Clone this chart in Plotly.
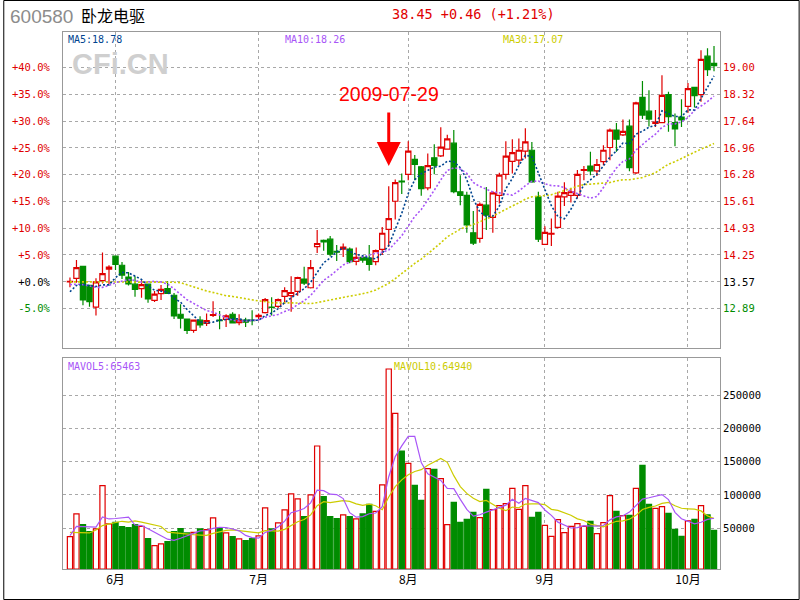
import plotly.graph_objects as go
import pandas as pd

# ---------------- data ----------------
dates = [
    "2009-05-19", "2009-05-20", "2009-05-21", "2009-05-22", "2009-05-25", "2009-05-26", "2009-05-27",
    "2009-06-01", "2009-06-02", "2009-06-03", "2009-06-04", "2009-06-05", "2009-06-08", "2009-06-09",
    "2009-06-10", "2009-06-11", "2009-06-12", "2009-06-15", "2009-06-16", "2009-06-17", "2009-06-18",
    "2009-06-19", "2009-06-22", "2009-06-23", "2009-06-24", "2009-06-25", "2009-06-26", "2009-06-29",
    "2009-06-30",
    "2009-07-01", "2009-07-02", "2009-07-03", "2009-07-06", "2009-07-07", "2009-07-08", "2009-07-09",
    "2009-07-10", "2009-07-13", "2009-07-14", "2009-07-15", "2009-07-16", "2009-07-17", "2009-07-20",
    "2009-07-21", "2009-07-22", "2009-07-23", "2009-07-24", "2009-07-27", "2009-07-28", "2009-07-29",
    "2009-07-30", "2009-07-31",
    "2009-08-03", "2009-08-04", "2009-08-05", "2009-08-06", "2009-08-07", "2009-08-10", "2009-08-11",
    "2009-08-12", "2009-08-13", "2009-08-14", "2009-08-17", "2009-08-18", "2009-08-19", "2009-08-20",
    "2009-08-21", "2009-08-24", "2009-08-25", "2009-08-26", "2009-08-27", "2009-08-28", "2009-08-31",
    "2009-09-01", "2009-09-02", "2009-09-03", "2009-09-04", "2009-09-07", "2009-09-08", "2009-09-09",
    "2009-09-10", "2009-09-11", "2009-09-14", "2009-09-15", "2009-09-16", "2009-09-17", "2009-09-18",
    "2009-09-21", "2009-09-22", "2009-09-23", "2009-09-24", "2009-09-25", "2009-09-28", "2009-09-29",
    "2009-09-30",
    "2009-10-09", "2009-10-12", "2009-10-13", "2009-10-14", "2009-10-15",
]

opens = [
    13.57, 13.66, 13.96, 13.48, 12.93, 13.60, 13.89, 14.22, 13.99, 13.69,
    13.51, 13.40, 13.51, 13.10, 13.27, 13.40, 13.23, 12.75, 12.63, 12.34,
    12.60, 12.52, 12.72, 12.60, 12.62, 12.75, 12.54, 12.60, 12.60, 12.69,
    12.79, 12.93, 12.95, 13.20, 13.22, 13.33, 13.64, 13.42, 14.46, 14.62,
    14.65, 14.34, 14.40, 14.40, 14.09, 14.19, 14.17, 14.08, 14.39, 14.90,
    15.61, 16.12, 16.29, 16.67, 16.48, 15.95, 16.71, 16.76, 16.93, 17.08,
    15.85, 15.76, 14.81, 14.67, 15.51, 15.20, 15.76, 16.29, 16.62, 16.65,
    16.88, 16.90, 15.72, 14.52, 14.78, 14.95, 15.72, 15.76, 15.76, 16.39,
    16.50, 16.38, 16.61, 16.97, 17.41, 17.29, 17.51, 16.33, 18.24, 17.89,
    17.58, 17.60, 18.31, 17.60, 17.74, 18.01, 18.49, 18.31, 19.28, 19.10,
]
highs = [
    13.68, 14.12, 13.97, 13.49, 13.66, 14.31, 13.99, 14.23, 14.07, 13.82,
    13.71, 13.61, 13.52, 13.34, 13.49, 13.59, 13.29, 13.00, 12.64, 12.62,
    12.70, 12.77, 13.08, 12.83, 12.75, 12.80, 12.75, 12.66, 12.85, 12.77,
    13.16, 13.18, 13.15, 13.43, 13.71, 13.70, 13.95, 14.12, 14.88, 14.64,
    14.73, 14.50, 14.54, 14.44, 14.44, 14.22, 14.50, 14.39, 14.96, 15.99,
    16.16, 16.31, 17.13, 16.78, 16.50, 16.82, 17.05, 17.48, 17.29, 17.41,
    16.27, 15.85, 15.36, 15.58, 15.97, 15.87, 16.33, 17.13, 17.18, 17.20,
    17.46, 17.11, 15.85, 14.98, 15.17, 15.85, 16.09, 15.93, 16.40, 16.50,
    16.86, 16.68, 17.03, 17.45, 17.59, 17.68, 17.68, 18.13, 18.65, 18.42,
    17.92, 18.80, 18.38, 17.83, 18.19, 18.60, 18.50, 19.43, 19.48, 19.54,
]
lows = [
    13.43, 13.55, 12.98, 12.94, 12.72, 13.53, 13.50, 13.87, 13.64, 13.48,
    13.19, 13.17, 13.04, 13.06, 13.11, 13.27, 12.63, 12.39, 12.25, 12.28,
    12.41, 12.45, 12.68, 12.37, 12.43, 12.52, 12.47, 12.43, 12.47, 12.60,
    12.77, 12.72, 12.90, 13.02, 12.81, 13.22, 13.49, 13.40, 14.30, 14.36,
    14.22, 14.10, 14.20, 14.04, 13.99, 14.05, 13.85, 13.99, 14.25, 14.46,
    15.15, 15.79, 16.14, 16.14, 15.75, 15.89, 16.29, 16.73, 16.91, 15.81,
    15.51, 14.81, 14.50, 14.56, 14.88, 14.81, 15.55, 16.16, 16.31, 16.52,
    16.69, 16.08, 14.58, 14.50, 14.48, 14.92, 15.49, 15.58, 15.68, 16.14,
    16.27, 16.25, 16.52, 16.65, 16.86, 17.26, 16.37, 16.30, 17.69, 17.50,
    17.49, 17.59, 17.37, 17.00, 17.49, 17.85, 17.98, 18.13, 18.78, 18.90,
]
closes = [
    13.58, 13.93, 13.11, 13.07, 13.57, 13.78, 13.94, 14.01, 13.74, 13.52,
    13.38, 13.50, 13.14, 13.26, 13.38, 13.28, 12.71, 12.65, 12.34, 12.60,
    12.48, 12.59, 12.74, 12.59, 12.71, 12.53, 12.60, 12.55, 12.59, 12.72,
    13.12, 12.92, 13.12, 13.35, 13.30, 13.68, 13.54, 13.93, 14.54, 14.58,
    14.27, 14.32, 14.45, 14.08, 14.19, 14.12, 14.01, 14.36, 14.80, 15.17,
    16.08, 16.10, 16.88, 16.54, 15.93, 16.51, 16.52, 16.98, 17.19, 15.85,
    15.76, 15.01, 14.55, 15.53, 15.26, 15.82, 16.27, 16.75, 16.84, 16.90,
    17.11, 16.10, 14.65, 14.82, 14.80, 15.74, 15.83, 15.85, 16.29, 16.41,
    16.38, 16.54, 16.90, 17.41, 17.18, 17.38, 16.46, 18.10, 17.79, 17.69,
    17.61, 18.29, 17.75, 17.44, 17.67, 18.46, 18.28, 19.20, 18.94, 19.04,
]
volumes = [
    37500, 71500, 55500, 45000, 49000, 114000, 56500, 59000, 52500, 51000,
    55500, 53000, 34500, 24000, 26500, 30000, 45000, 49500, 43000, 44000,
    49000, 48000, 65500, 50500, 43000, 37500, 34000, 31500, 34500, 38500,
    80500, 49000, 58000, 77500, 101500, 94000, 67500, 100000, 173500, 97500,
    67500, 64500, 70000, 67500, 64000, 71500, 86000, 75500, 115000, 289000,
    222500, 166000, 147500, 114500, 92000, 139500, 138500, 124500, 55500, 89000,
    59000, 63500, 74000, 66000, 108500, 78000, 84000, 87000, 110000, 78500,
    114000, 66500, 74000, 54500, 38000, 63000, 43500, 53000, 57000, 53000,
    60500, 42000, 58500, 99000, 75500, 69000, 69500, 110000, 144500, 86000,
    80000, 82500, 72500, 48500, 38000, 61000, 63500, 84000, 70000, 47000,
]

ma5_head = [13.32, 13.48, 13.50, 13.48]
ma10_head = [13.50, 13.51, 13.50, 13.47, 13.43, 13.43, 13.48, 13.55, 13.58]
ma30_head = [13.57, 13.57, 13.57, 13.57, 13.57, 13.57, 13.57, 13.57, 13.57, 13.57,
             13.57, 13.57, 13.57, 13.57, 13.57, 13.56, 13.56, 13.55, 13.49, 13.44,
             13.39, 13.34, 13.30, 13.26, 13.22, 13.20, 13.17, 13.14, 13.11]
mavol5_head = [39000, 53000, 52500, 52500]
mavol10_head = [44000, 44000, 43000, 43000, 47500, 54000, 56500, 59000, 60500]

base_price = 13.57
price_ticks = [12.89, 13.57, 14.25, 14.93, 15.61, 16.28, 16.96, 17.64, 18.32, 19.00]
price_labels = ["12.89", "13.57", "14.25", "14.93", "15.61", "16.28", "16.96", "17.64", "18.32", "19.00"]
pct_labels = ["-5.0%", "+0.0%", "+5.0%", "+10.0%", "+15.0%", "+20.0%", "+25.0%", "+30.0%", "+35.0%", "+40.0%"]
vol_ticks = [50000, 100000, 150000, 200000, 250000]
vol_labels = ["50000", "100000", "150000", "200000", "250000"]
month_labels = ["6月", "7月", "8月", "9月", "10月"]

stock_code = "600580"
stock_name = "卧龙电驱"
quote_text = "38.45 +0.46 (+1.21%)"
ma_texts = ["MA5:18.78", "MA10:18.26", "MA30:17.07"]
mavol_texts = ["MAVOL5:65463", "MAVOL10:64940"]
marked_date = "2009-07-29"
watermark = "CFi.CN"

# ---------------- styling ----------------
RED = "#E00000"
GREEN = "#008C00"
MA5_C = "#00448F"
MA10_C = "#A855F7"
MA30_C = "#CCCC00"
GRID = "#A8A8A8"
BORDER = "#999999"
MONO = "DejaVu Sans Mono, monospace"

PRICE_RANGE = [11.895, 19.893]
VOL_RANGE = [-11100, 305500]
X_RANGE = [-1.07, 99.92]


def rolling_with_head(values, n, head):
    s = pd.Series(values, dtype=float).rolling(n).mean()
    s.iloc[:len(head)] = head
    return s.tolist()


ma5 = rolling_with_head(closes, 5, ma5_head)
ma10 = rolling_with_head(closes, 10, ma10_head)
ma30 = rolling_with_head(closes, 30, ma30_head)
mavol5 = rolling_with_head(volumes, 5, mavol5_head)
mavol10 = rolling_with_head(volumes, 10, mavol10_head)

month_starts = [d for i, d in enumerate(dates) if i > 0 and d[5:7] != dates[i - 1][5:7]]

up = [c >= o for o, c in zip(opens, closes)]


def colored(label, value):
    if abs(value - base_price) < 1e-9:
        col = "#000000"
    elif value > base_price:
        col = RED
    else:
        col = GREEN
    return f'<span style="color:{col}">{label}</span>'


fig = go.Figure()

fig.add_trace(go.Candlestick(
    x=dates, open=opens, high=highs, low=lows, close=closes,
    increasing=dict(line=dict(color=RED, width=1.2), fillcolor="white"),
    decreasing=dict(line=dict(color=GREEN, width=1.2), fillcolor=GREEN),
    whiskerwidth=0, xaxis="x", yaxis="y", showlegend=False, hoverinfo="skip",
))

dot = "2px,2px"
for vals, col in [(ma30, MA30_C), (ma10, MA10_C), (ma5, MA5_C)]:
    fig.add_trace(go.Scatter(x=dates, y=vals, mode="lines", xaxis="x", yaxis="y",
                             line=dict(color=col, width=1.6, dash=dot),
                             showlegend=False, hoverinfo="skip"))

fig.add_trace(go.Bar(
    x=dates, y=[v - VOL_RANGE[0] for v in volumes], base=VOL_RANGE[0],
    width=0.8, xaxis="x2", yaxis="y2",
    marker=dict(color=["white" if u else GREEN for u in up],
                line=dict(color=[RED if u else GREEN for u in up], width=1.2)),
    showlegend=False, hoverinfo="skip",
))
for vals, col in [(mavol10, MA30_C), (mavol5, MA10_C)]:
    fig.add_trace(go.Scatter(x=dates, y=vals, mode="lines", xaxis="x2", yaxis="y2",
                             line=dict(color=col, width=1.2),
                             showlegend=False, hoverinfo="skip"))

# invisible trace so the left percentage axis is drawn
fig.add_trace(go.Scatter(x=[dates[0]], y=[base_price], xaxis="x", yaxis="y3",
                         mode="markers", marker=dict(opacity=0), showlegend=False, hoverinfo="skip"))

axis_common = dict(showline=True, mirror=True, linecolor=BORDER, linewidth=1, zeroline=False)
grid_common = dict(showgrid=True, gridcolor=GRID, griddash="dot", gridwidth=1)

fig.update_layout(
    width=800, height=600,
    margin=dict(l=60, r=80, t=32, b=31),
    paper_bgcolor="white", plot_bgcolor="white",
    showlegend=False,
    boxgap=0.1, boxgroupgap=0.1, bargap=0.2,
    xaxis=dict(type="category", domain=[0, 1], anchor="y", range=X_RANGE,
               tickvals=month_starts, showticklabels=False, ticks="",
               rangeslider=dict(visible=False), **axis_common, **grid_common),
    xaxis2=dict(type="category", domain=[0, 1], anchor="y2", range=X_RANGE, matches="x",
                tickvals=month_starts, ticktext=month_labels, ticks="",
                tickfont=dict(family="Noto Sans CJK SC", size=12, color="#000000"),
                **axis_common, **grid_common),
    yaxis=dict(domain=[0.4115, 1], side="right", anchor="x", range=PRICE_RANGE,
               tickvals=price_ticks,
               ticktext=[colored(l, v) for l, v in zip(price_labels, price_ticks)],
               tickfont=dict(family=MONO, size=10.5), ticks="",
               **axis_common, **grid_common),
    yaxis3=dict(overlaying="y", side="left", anchor="x", range=PRICE_RANGE,
                tickvals=price_ticks,
                ticktext=[colored(l, v) for l, v in zip(pct_labels, price_ticks)],
                tickfont=dict(family=MONO, size=10.5), showgrid=False, zeroline=False,
                ticks="outside", ticklen=10, tickcolor="rgba(0,0,0,0)", showline=False),
    yaxis2=dict(domain=[0, 0.3929], side="right", anchor="x2", range=VOL_RANGE,
                tickvals=vol_ticks, ticktext=vol_labels,
                tickfont=dict(family=MONO, size=10.5, color="#000000"), ticks="",
                **axis_common, **grid_common),
)


def px_x(p):
    return (p - 60) / 660


def px_y(p):
    return (569 - p) / 537


ann = []
ann.append(dict(text=stock_code, x=px_x(5), y=px_y(17), xref="paper", yref="paper",
                xanchor="left", yanchor="middle", showarrow=False,
                font=dict(family="Liberation Sans", size=19, color="#8C8C8C")))
ann.append(dict(text=stock_name, x=px_x(76), y=px_y(15), xref="paper", yref="paper",
                xanchor="left", yanchor="middle", showarrow=False,
                font=dict(family="Noto Sans CJK SC", size=16, color="#000000")))
ann.append(dict(text=quote_text, x=px_x(388), y=px_y(14), xref="paper", yref="paper",
                xanchor="left", yanchor="middle", showarrow=False,
                font=dict(family=MONO, size=13.5, color=RED)))
ann.append(dict(text=f"<b>{watermark}</b>", x=px_x(118), y=px_y(64), xref="paper", yref="paper",
                xanchor="center", yanchor="middle", showarrow=False,
                font=dict(family="Liberation Sans", size=29, color="#CFCFCF")))
for txt, xp, col in zip(ma_texts, [63, 281, 500], [MA5_C, MA10_C, MA30_C]):
    ann.append(dict(text=txt, x=px_x(xp), y=px_y(39), xref="paper", yref="paper",
                    xanchor="left", yanchor="middle", showarrow=False,
                    font=dict(family=MONO, size=10, color=col)))
for txt, xp, col in zip(mavol_texts, [63, 390], [MA10_C, MA30_C]):
    ann.append(dict(text=txt, x=px_x(xp), y=px_y(366), xref="paper", yref="paper",
                    xanchor="left", yanchor="middle", showarrow=False,
                    font=dict(family=MONO, size=10, color=col)))
# marked date label and arrow
ann.append(dict(text=marked_date, x=marked_date, y=18.32, xref="x", yref="y",
                xanchor="center", yanchor="middle", showarrow=False,
                font=dict(family="Liberation Sans", size=19.5, color="#FF0000")))
ann.append(dict(text="", x=marked_date, y=16.50, xref="x", yref="y",
                ax=0, ay=-55, axref="pixel", ayref="pixel", showarrow=True,
                arrowhead=2, arrowsize=1.6, arrowwidth=3, arrowcolor="#FF0000"))
fig.update_layout(annotations=ann)

# outer black frame
fig.add_shape(type="rect", xref="paper", yref="paper",
              x0=px_x(0.5), x1=px_x(799.5), y0=px_y(599.5), y1=px_y(0.5),
              line=dict(color="#000000", width=1), layer="above")

fig.write_html("out.html", config={"displayModeBar": False},
               post_script="document.body.style.margin='0';document.body.style.overflow='hidden';")
